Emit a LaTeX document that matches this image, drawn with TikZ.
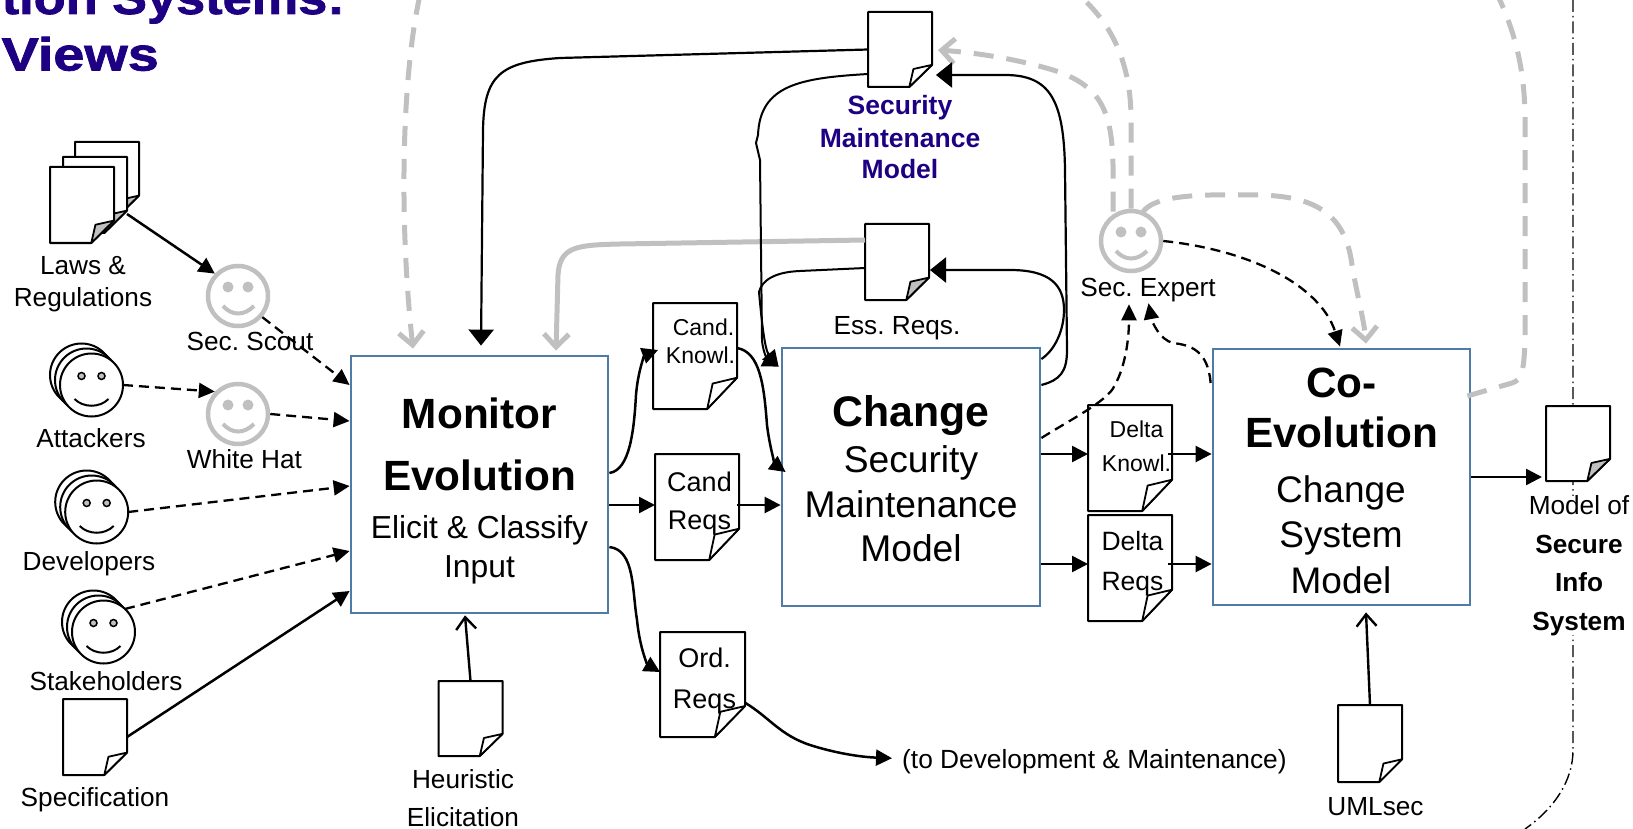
\documentclass[tikz,border=0pt]{standalone}
\usepackage{fontspec}
\setmainfont{Liberation Sans}
\newfontfamily\ttlfont[FakeStretch=1.2,FakeBold=1.6]{Liberation Sans}
\newfontfamily\ttlfontb[FakeStretch=1.125,FakeBold=1.6]{Liberation Sans}
\usetikzlibrary{arrows.meta}
\definecolor{ttlblue}{HTML}{1E0082}
\definecolor{boxblue}{HTML}{4F7BA6}
\definecolor{softgray}{HTML}{C0C0C0}
\newcommand\fs[2]{\fontsize{#1}{#2}\selectfont}
\frenchspacing
\tikzset{
  x=1pt,y=-1pt,
  lbl/.style={align=center,inner sep=0pt,anchor=base},
  boxnode/.style={draw=boxblue,line width=2.8pt,fill=white,inner sep=0pt},
  docnode/.style={inner sep=0pt,outer sep=0pt},
  solidarrow/.style={line width=2.5pt,-{Triangle[length=16pt,width=16pt]}},
  bigarrow/.style={line width=2.2pt,-{Triangle[length=16pt,width=25pt]}},
  loopline/.style={line width=2pt,-{Triangle[length=16pt,width=16pt]}},
  openarrow/.style={line width=2.4pt,-{Straight Barb[length=12pt,width=20pt]}},
  dasharrow/.style={line width=2.3pt,dash pattern=on 10pt off 6pt,-{Triangle[length=16pt,width=15pt]}},
  grayline/.style={line width=5pt,draw=softgray},
  graydash/.style={grayline,dash pattern=on 20pt off 13pt},
  grayhead/.style={-{Straight Barb[length=13pt,width=25pt]}},
  dashdotline/.style={line width=1.4pt,dash pattern=on 12pt off 4pt on 1.5pt off 4pt},
  facering/.style={circle,draw,line width=2pt,fill=white,minimum size=63pt,inner sep=0pt,outer sep=0pt},
  grayring/.style={circle,draw=softgray,line width=4.5pt,fill=white,minimum size=60pt,inner sep=0pt},
}
% name, left, top, width, height, fold colour
\newcommand\docshape[6]{%
  \pgfmathsetmacro\dr{#2+#4}\pgfmathsetmacro\db{#3+#5}%
  \pgfmathsetmacro\fx{#2+0.645*#4}\pgfmathsetmacro\fy{#3+0.705*#5}%
  \pgfmathsetmacro\gx{#2+0.71*#4}\pgfmathsetmacro\gy{#3+0.76*#5}%
  \pgfmathsetmacro\cx{#2+0.5*#4}\pgfmathsetmacro\cy{#3+0.5*#5}%
  \draw[line width=2pt,fill=white,line join=round] (#2,#3) -- (\dr,#3) -- (\dr,\fy) -- (\fx,\db) -- (#2,\db) -- cycle;
  \draw[line width=1.8pt,fill=#6,line join=round] (\fx,\db) -- (\gx,\gy) -- (\dr,\fy) -- cycle;
  \node[docnode,minimum width=#4pt,minimum height=#5pt] (#1) at (\cx,\cy) {};
}
% black face with two circles behind
\newcommand\crowdface[3]{%
  \node[facering] at (#2-10,#3-10) {};
  \node[facering] at (#2-5,#3-5) {};
  \node[facering] (#1) at (#2,#3) {};
  \begin{scope}[shift={(#2,#3)}]
    \draw[line width=1.5pt,fill=softgray] (-10,-9) circle (3.5pt) (10,-9) circle (3.5pt);
    \draw[line width=2pt] (-17,14) .. controls (-8,23) and (8,23) .. (17,14);
  \end{scope}
}
\newcommand\grayface[3]{%
  \node[grayring] (#1) at (#2,#3) {};
  \begin{scope}[shift={(#2,#3)}]
    \fill[softgray] (-10,-9) circle (5.5pt) (10,-9) circle (5.5pt);
    \draw[softgray,line width=4pt] (-15,10) .. controls (-6,20) and (6,20) .. (16,10);
  \end{scope}
}
\begin{document}
\begin{tikzpicture}
\path[use as bounding box] (0,0) rectangle (1633,829);
\clip (0,0) rectangle (1633,829);
\coordinate (topgrayA) at (420,-5);
\coordinate (topgrayB) at (1075,-8);
\coordinate (topgrayC) at (1495,-10);
\coordinate (topdot) at (1573,0);
\coordinate (botdot) at (1525,829);

% title
\node[lbl,anchor=base east,text=ttlblue,font=\fs{46.5}{50}\ttlfontb\bfseries] (ttlA) at (345,14) {tion Systems:};
\node[lbl,anchor=base east,text=ttlblue,font=\fs{46.5}{50}\ttlfont\bfseries] (ttlB) at (159,70.5) {Views};

% dash-dot boundary
\draw[dashdotline] (topdot) -- (1573,750) .. controls (1573,780) and (1555,808) .. (botdot);

% boxes
\node[boxnode,minimum width=257pt,minimum height=257pt] (mon) at (479.5,484.5) {};
\node[boxnode,minimum width=258pt,minimum height=258pt] (chg) at (911,477) {};
\node[boxnode,minimum width=257pt,minimum height=256pt] (coe) at (1341.5,477) {};

% documents
\docshape{lawsC}{75}{142}{64}{76}{softgray}
\docshape{lawsB}{63}{157}{64}{76}{softgray}
\docshape{lawsA}{50}{167}{64}{76}{softgray}
\docshape{spec}{63}{699}{64}{76}{white}
\docshape{heur}{438.5}{681}{64}{75}{white}
\docshape{secd}{868}{12}{64}{75}{white}
\docshape{ess}{865}{224}{64}{76}{softgray}
\docshape{ck}{653}{303}{84}{106}{white}
\docshape{cr}{655}{454}{84}{106}{white}
\docshape{ord}{660}{632}{85}{105}{white}
\docshape{dk}{1088}{405}{84}{106}{white}
\docshape{dr}{1088}{515}{84}{106}{white}
\docshape{mod}{1546}{406}{64}{75}{softgray}
\docshape{uml}{1338}{705}{64}{77}{white}

% faces
\crowdface{att}{91.5}{385}
\crowdface{dev}{96.7}{512}
\crowdface{stk}{103.5}{632}
\grayface{sco}{238}{296}
\grayface{wht}{238}{414}
\grayface{exp}{1131}{241}

% labels
\node[lbl,font=\fs{26.2}{32}] (lawsL) at (83,306) {Laws \&\\Regulations};
\node[lbl,font=\fs{26.2}{32}] (scoL) at (250,350.5) {Sec. Scout};
\node[lbl,font=\fs{26.2}{32}] (attL) at (91,447) {Attackers};
\node[lbl,font=\fs{26.2}{32}] (whtL) at (244.5,468) {White Hat};
\node[lbl,font=\fs{26.2}{32}] (devL) at (89,570) {Developers};
\node[lbl,font=\fs{26.2}{32}] (stkL) at (106,690) {Stakeholders};
\node[lbl,font=\fs{26.2}{32}] (specL) at (95,806) {Specification};
\node[lbl,font=\fs{26.2}{38}] (heurL) at (463,826) {Heuristic\\Elicitation};
\node[lbl,font=\fs{26.5}{32}\bfseries,text=ttlblue] (secL) at (900,179) {Security\\Maintenance\\Model};
\node[lbl,font=\fs{26.2}{32}] (essL) at (897,334) {Ess. Reqs.};
\node[lbl,font=\fs{26.2}{32}] (expL) at (1148,296) {Sec. Expert};
\node[lbl,font=\fs{23}{28}] (ckL) at (700.5,363) {\hspace*{6pt}Cand.\\Knowl.};
\node[lbl,font=\fs{27}{38}] (crL) at (699.5,529) {Cand\\Reqs};
\node[lbl,font=\fs{27}{41}] (ordL) at (704.5,708) {Ord.\\Reqs};
\node[lbl,font=\fs{23}{34}] (dkL) at (1136.5,471) {Delta\\Knowl.};
\node[lbl,font=\fs{26.5}{40}] (drL) at (1132.5,590.5) {Delta\\Reqs};
\node[lbl,font=\fs{26.3}{32},anchor=base west] (toL) at (902,768) {(to Development \& Maintenance)};
\node[lbl,font=\fs{26.2}{32}] (umlL) at (1375.5,815) {UMLsec};
\node[lbl,font=\fs{26.2}{38.5},fill=white] (modL) at (1579,630) {Model of\\\textbf{Secure}\\\textbf{Info}\\\textbf{System}};

% box texts
\node[lbl,font=\fs{42.3}{62}\bfseries] (monH) at (479.5,490) {Monitor\\Evolution};
\node[lbl,font=\fs{31.8}{38.5}] (monS) at (479.5,577) {Elicit \& Classify\\Input};
\node[lbl,font=\fs{42.8}{50}\bfseries] (chgH) at (911,426) {Change};
\node[lbl,font=\fs{37.2}{44.5}] (chgS) at (911,561.5) {Security\\Maintenance\\Model};
\node[lbl,font=\fs{42.3}{50}\bfseries] (coeH) at (1341.5,447) {Co-\\Evolution};
\node[lbl,font=\fs{37}{45.5}] (coeS) at (1341,593) {Change\\System\\Model};

% gray connectors
\draw[graydash,grayhead] (topgrayA) .. controls (403,70) and (398,210) .. ([shift={(-66.5,-6)}]mon.north);
\draw[grayline,grayhead] ([shift={(0,-22)}]ess.west) -- (620,244) .. controls (575,245) and (560,247) .. (558,275) -- ([shift={(76.5,-4)}]mon.north);
\draw[graydash,grayhead] ([shift={(-18,3)}]exp.north) -- (1113,165) .. controls (1112,110) and (1100,85) .. (1053,70) .. controls (1020,60) and (980,53) .. ([shift={(6,0.5)}]secd.east);
\draw[graydash] (exp.north) -- (1131,115) .. controls (1130,60) and (1110,20) .. (topgrayB);
\draw[graydash,grayhead] ([shift={(12,3)}]exp.north) .. controls (1155,195) and (1200,194) .. (1258,195) .. controls (1310,196) and (1345,210) .. (1352,265) .. controls (1358,300) and (1364,320) .. ([shift={(24.5,-4)}]coe.north);
\draw[graydash] ([shift={(-4,-81)}]coe.east) -- (1512,383) .. controls (1522,380) and (1524,370) .. (1525,340) -- (1525,120) .. controls (1525,70) and (1515,30) .. (topgrayC);

% left inputs
\draw[solidarrow] ([shift={(0,19)}]lawsB.east) -- (sco.136);
\draw[dasharrow] (sco.-41) -- ([shift={(0,-99.5)}]mon.west);
\draw[dasharrow] (att.east) -- (wht.136);
\draw[dasharrow] (wht.east) -- ([shift={(0,-63.5)}]mon.west);
\draw[dasharrow] (dev.east) -- ([shift={(0,1.5)}]mon.west);
\draw[dasharrow] (stk.47) -- ([shift={(0,66.5)}]mon.west);
\draw[solidarrow] (spec.east) -- ([shift={(0,106.5)}]mon.west);
\draw[openarrow] (heur.north) -- ([shift={(-14.5,1)}]mon.south);
\draw[openarrow] (uml.north) -- ([shift={(24.5,6)}]coe.south);

% security maintenance model loops
\draw[bigarrow] (secd.west) -- (560,58) .. controls (500,62) and (484,75) .. (483,130) -- ([shift={(1.5,-9)}]mon.north);
\draw[loopline] ([shift={(0,24.5)}]secd.west) .. controls (800,78) and (760,85) .. (758,135) -- (756,143) -- (760,160) -- (762,340) .. controls (763,355) and (770,362) .. ([shift={(-2,20)}]chg.north west);
\draw[bigarrow] ([shift={(0,-92)}]chg.east) .. controls (1060,380) and (1067,372) .. (1067,350) -- (1065,170) .. controls (1064,100) and (1050,75) .. (1005,75) -- ([shift={(4,25.5)}]secd.east);
\draw[bigarrow] ([shift={(0,-118)}]chg.east) .. controls (1055,350) and (1064,330) .. (1064,310) .. controls (1064,285) and (1050,270) .. (1010,270) -- ([shift={(1,8)}]ess.east);
\draw[loopline] ([shift={(0,6)}]ess.west) -- (800,271) .. controls (775,272) and (762,280) .. (759,292) .. controls (762,325) and (765,350) .. ([shift={(-2,20)}]chg.north west);

% candidates
\draw[solidarrow] ([shift={(0,-11.5)}]mon.east) .. controls (630,470) and (634,430) .. (636,395) .. controls (638,370) and (645,355) .. ([shift={(5,-6)}]ck.west);
\draw[solidarrow] ([shift={(0,20.5)}]mon.east) -- ([shift={(0,-2)}]cr.west);
\draw[solidarrow] ([shift={(0,62.5)}]mon.east) .. controls (635,550) and (632,590) .. (637,620) .. controls (640,650) and (648,665) .. ([shift={(0,-12.5)}]ord.west);
\draw[solidarrow] ([shift={(-2,-2)}]cr.east) -- ([shift={(0,28)}]chg.west);
\draw[solidarrow] ([shift={(0,-8)}]ck.east) .. controls (760,352) and (764,385) .. (767,425) .. controls (770,450) and (776,465) .. ([shift={(5,-5)}]chg.west);
\draw[solidarrow] ([shift={(0.5,18.5)}]ord.east) .. controls (770,718) and (780,735) .. (810,745) .. controls (835,753) and (860,757) .. ([shift={(-10,-3)}]toL.west);

% deltas
\draw[solidarrow] ([shift={(0,-23)}]chg.east) -- ([shift={(0,-4)}]dk.west);
\draw[solidarrow] ([shift={(0,87)}]chg.east) -- ([shift={(0,-4)}]dr.west);
\draw[solidarrow] ([shift={(-4,-4)}]dk.east) -- ([shift={(0,-23)}]coe.west);
\draw[solidarrow] ([shift={(-4,-4)}]dr.east) -- ([shift={(0,87)}]coe.west);
\draw[solidarrow] (coe.east) -- ([shift={(-4,33.5)}]mod.west);

% expert
\draw[dasharrow] ([shift={(0,-39)}]chg.east) .. controls (1070,420) and (1100,405) .. (1112,390) .. controls (1125,370) and (1129,340) .. ([shift={(-2,31)}]exp.south);
\draw[dasharrow] ([shift={(-1,-94)}]coe.west) .. controls (1208,350) and (1190,345) .. (1173,343) .. controls (1160,340) and (1152,322) .. ([shift={(17.5,30)}]exp.south);
\draw[dasharrow] (exp.east) .. controls (1250,250) and (1320,285) .. ([shift={(-1.5,-1)}]coe.north);
\end{tikzpicture}
\end{document}
